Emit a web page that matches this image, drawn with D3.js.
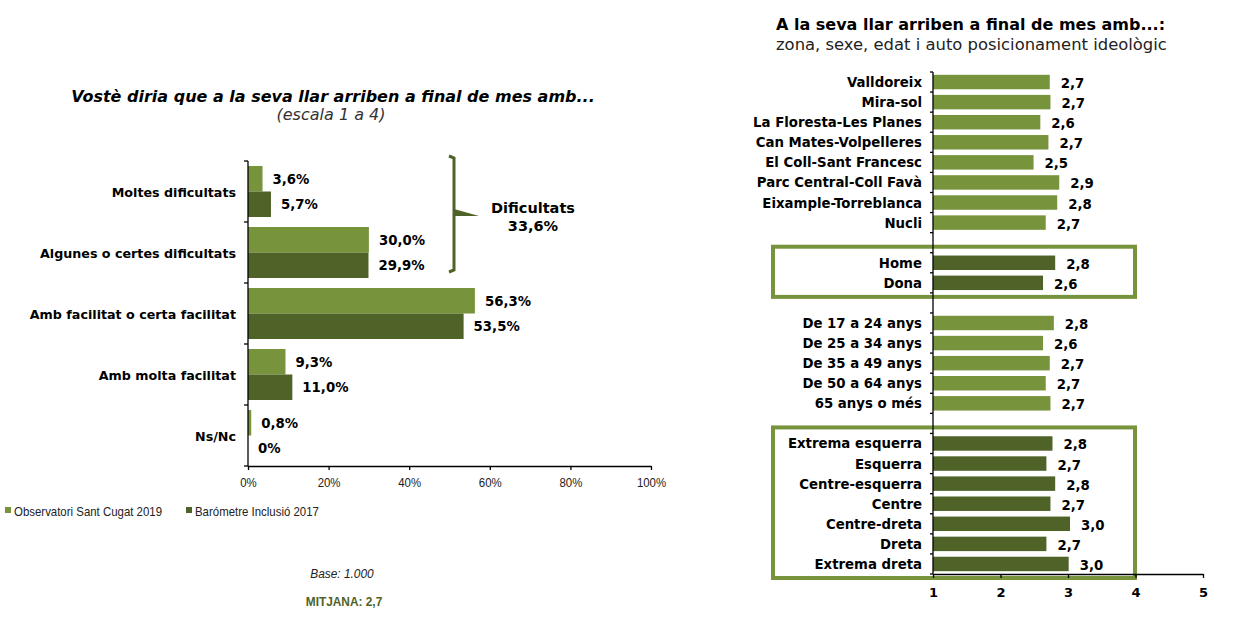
<!DOCTYPE html>
<html>
<head>
<meta charset="utf-8">
<script src="https://cdn.jsdelivr.net/npm/d3@7"></script>
<style>
  body { margin: 0; background: #fff; }
  svg { display: block; }
  .bold { font-family: "DejaVu Sans", Verdana, sans-serif; font-weight: bold; }
  .plain { font-family: "Liberation Sans", Arial, sans-serif; }
</style>
</head>
<body>
<svg id="chart" width="1250" height="629"></svg>
<script>
// left chart data
var answers = ["Moltes dificultats", "Algunes o certes dificultats", "Amb facilitat o certa facilitat", "Amb molta facilitat", "Ns/Nc"];
var series = ["Observatori Sant Cugat 2019", "Barómetre Inclusió 2017"];
var santCugat2019 = [3.6, 30.0, 56.3, 9.3, 0.8];
var barometre2017 = [5.7, 29.9, 53.5, 11.0, 0];
var pctTicks = [0, 20, 40, 60, 80, 100];

// right chart data
var zones = ["Valldoreix", "Mira-sol", "La Floresta-Les Planes", "Can Mates-Volpelleres", "El Coll-Sant Francesc", "Parc Central-Coll Favà", "Eixample-Torreblanca", "Nucli"];
var zoneValues = [2.73, 2.74, 2.59, 2.71, 2.49, 2.87, 2.84, 2.67];
var sexes = ["Home", "Dona"];
var sexValues = [2.81, 2.63];
var ages = ["De 17 a 24 anys", "De 25 a 34 anys", "De 35 a 49 anys", "De 50 a 64 anys", "65 anys o més"];
var ageValues = [2.79, 2.63, 2.73, 2.67, 2.74];
var ideologies = ["Extrema esquerra", "Esquerra", "Centre-esquerra", "Centre", "Centre-dreta", "Dreta", "Extrema dreta"];
var ideologyValues = [2.77, 2.68, 2.81, 2.74, 3.03, 2.68, 3.01];
var scaleTicks = [1, 2, 3, 4, 5];

var light = "#77933c", dark = "#4f6228";
var svg = d3.select("#chart");
var comma = function(s){ return s.replace(".", ","); };
var narrow = "scale(0.88,1)"; // Tahoma-like narrow look

// ---------- left chart ----------
var xL = d3.scaleLinear().domain([0, 100]).range([248, 651]);
var yL = d3.scaleBand().domain(answers).range([161, 466]);
var ySub = d3.scaleBand().domain(series).range([5, yL.bandwidth() - 5]);

var left = svg.append("g");

left.append("text").attr("class", "bold").attr("x", 333).attr("y", 102)
  .attr("text-anchor", "middle").style("font-size", "16px").style("font-style", "italic")
  .text("Vostè diria que a la seva llar arriben a final de mes amb...");
left.append("text").attr("x", 331).attr("y", 120)
  .attr("text-anchor", "middle").style("font-family", "DejaVu Sans").style("font-size", "16px").style("font-style", "italic")
  .attr("fill", "#333").text("(escala 1 a 4)");

var rowsL = answers.map(function(a, i){
  return {cat: a, vals: [{s: series[0], v: santCugat2019[i]}, {s: series[1], v: barometre2017[i]}]};
});

var grp = left.selectAll(".grp").data(rowsL).enter().append("g")
  .attr("transform", function(d){ return "translate(0," + yL(d.cat) + ")"; });

grp.selectAll("rect").data(function(d){ return d.vals; }).enter().append("rect")
  .attr("x", xL(0))
  .attr("y", function(d){ return ySub(d.s); })
  .attr("width", function(d){ return xL(d.v) - xL(0); })
  .attr("height", ySub.bandwidth())
  .attr("fill", function(d){ return d.s === series[0] ? light : dark; });

grp.selectAll(".val").data(function(d){ return d.vals; }).enter().append("text")
  .attr("class", "bold")
  .attr("x", function(d){ return xL(d.v) + 10; })
  .attr("y", function(d){ return ySub(d.s) + ySub.bandwidth() / 2 + 5; })
  .style("font-size", "13.3px")
  .text(function(d){ return d.v === 0 ? "0%" : comma(d3.format(".1f")(d.v)) + "%"; });

grp.append("text").attr("class", "bold")
  .attr("x", 236).attr("y", yL.bandwidth() / 2 + 5)
  .attr("text-anchor", "end").style("font-size", "12.7px")
  .text(function(d){ return d.cat; });

// y axis line + ticks between categories
left.append("line").attr("x1", xL(0)).attr("x2", xL(0))
  .attr("y1", yL.range()[0]).attr("y2", yL.range()[1]).attr("stroke", "#000").attr("stroke-width", 1.3);
var bounds = answers.map(function(a){ return yL(a); }).concat([yL.range()[1]]);
left.selectAll(".ytick").data(bounds).enter().append("line")
  .attr("x1", xL(0) - 4).attr("x2", xL(0)).attr("y1", function(d){ return d; }).attr("y2", function(d){ return d; })
  .attr("stroke", "#000").attr("stroke-width", 1.3);

// x axis
var xAxisL = d3.axisBottom(xL).tickValues(pctTicks).tickSize(4).tickSizeOuter(0)
  .tickFormat(function(d){ return d + "%"; });
var gx = left.append("g").attr("transform", "translate(0," + yL.range()[1] + ")").call(xAxisL);
gx.select(".domain").attr("stroke-width", 1.3);
gx.selectAll("line").attr("stroke-width", 1.3);
gx.selectAll("text").attr("class", "plain").style("font-size", "13px").attr("fill", "#222")
  .attr("dy", "1.05em").attr("transform", narrow);

// bracket "Dificultats"
var bTop = yL(answers[0]) - 5, bBot = yL(answers[1]) + yL.bandwidth() - 11, bx = 454;
var bMid = (bTop + bBot) / 2 - 2;
left.append("path")
  .attr("d", "M" + (bx - 5) + "," + bTop + " L" + bx + "," + (bTop + 2) + " L" + bx + "," + (bBot - 2) + " L" + (bx - 5) + "," + bBot)
  .attr("fill", "none").attr("stroke", dark).attr("stroke-width", 3);
left.append("path")
  .attr("d", "M" + bx + "," + (bMid - 3) + " L" + (bx + 25) + "," + (bMid + 4) + " L" + bx + "," + (bMid + 4) + "Z")
  .attr("fill", dark);
left.append("text").attr("class", "bold").attr("x", 533).attr("y", 213)
  .attr("text-anchor", "middle").style("font-size", "14.5px").text("Dificultats");
left.append("text").attr("class", "bold").attr("x", 533).attr("y", 231)
  .attr("text-anchor", "middle").style("font-size", "14.5px").text(comma(d3.format(".1f")(santCugat2019[0] + santCugat2019[1])) + "%");

// legend
var leg = left.selectAll(".leg").data(series).enter().append("g")
  .attr("transform", function(d, i){ return "translate(" + (5 + i * 181) + ",511)"; });
leg.append("rect").attr("x", 0).attr("y", -4).attr("width", 6).attr("height", 6)
  .attr("fill", function(d, i){ return i === 0 ? light : dark; });
leg.append("g").attr("transform", "translate(9,5) " + narrow)
  .append("text").attr("class", "plain").style("font-size", "13px")
  .attr("fill", "#222").text(function(d){ return d; });

left.append("g").attr("transform", "translate(342,578) " + narrow)
  .append("text").attr("class", "plain").attr("text-anchor", "middle")
  .style("font-size", "13.5px").style("font-style", "italic").attr("fill", "#222").text("Base: 1.000");
left.append("g").attr("transform", "translate(344,606) " + narrow)
  .append("text").attr("class", "plain").attr("text-anchor", "middle")
  .style("font-size", "13.5px").style("font-weight", "bold").attr("fill", dark).text("MITJANA: 2,7");

// ---------- right chart ----------
var groups = [
  {labels: zones, values: zoneValues, color: light},
  {labels: sexes, values: sexValues, color: dark},
  {labels: ages, values: ageValues, color: light},
  {labels: ideologies, values: ideologyValues, color: dark}
];
var rowsR = [];
groups.forEach(function(g, gi){
  if (gi > 0) rowsR.push({key: "gap" + gi, gap: true});
  g.labels.forEach(function(l, i){ rowsR.push({key: l, label: l, v: g.values[i], color: g.color, group: gi}); });
});

var xR = d3.scaleLinear().domain([1, 5]).range([933, 1203]);
var yR = d3.scaleBand().domain(rowsR.map(function(d){ return d.key; })).range([72, 574]).paddingInner(0.28).paddingOuter(0.14);
var right = svg.append("g");

right.append("text").attr("class", "bold").attr("x", 776).attr("y", 30)
  .style("font-size", "16px").text("A la seva llar arriben a final de mes amb...:");
right.append("text").attr("x", 776).attr("y", 50)
  .style("font-family", "DejaVu Sans").style("font-size", "16.4px").attr("fill", "#222")
  .text("zona, sexe, edat i auto posicionament ideològic");

// boxes around sex and ideology groups
[1, 3].forEach(function(gi){
  var labs = groups[gi].labels;
  var top = yR(labs[0]) - yR.step() * yR.paddingInner() / 2 - 6;
  var bot = yR(labs[labs.length - 1]) + yR.bandwidth() + yR.step() * yR.paddingInner() / 2 + 4;
  right.append("rect").attr("x", 773).attr("y", top).attr("width", 362).attr("height", bot - top)
    .attr("fill", "none").attr("stroke", light).attr("stroke-width", 4);
});

var data = rowsR.filter(function(d){ return !d.gap; });
right.selectAll(".bar").data(data).enter().append("rect")
  .attr("x", xR(1)).attr("y", function(d){ return yR(d.key); })
  .attr("width", function(d){ return xR(d.v) - xR(1); })
  .attr("height", yR.bandwidth())
  .attr("fill", function(d){ return d.color; });

right.selectAll(".val").data(data).enter().append("text").attr("class", "bold")
  .attr("x", function(d){ return xR(d.v) + 11; })
  .attr("y", function(d){ return yR(d.key) + yR.bandwidth() / 2 + 6; })
  .style("font-size", "13.3px")
  .text(function(d){ return comma(d3.format(".1f")(d.v)); });

right.selectAll(".lab").data(data).enter().append("text").attr("class", "bold")
  .attr("x", 922).attr("y", function(d){ return yR(d.key) + yR.bandwidth() / 2 + 5; })
  .attr("text-anchor", "end").style("font-size", "13.3px")
  .text(function(d){ return d.label; });

right.append("line").attr("x1", xR(1)).attr("x2", xR(1)).attr("y1", 72).attr("y2", 574)
  .attr("stroke", "#000").attr("stroke-width", 1.3);
var boundsR = rowsR.map(function(d){ return yR(d.key) - yR.step() * yR.paddingInner() / 2; }).concat([574]);
right.selectAll(".ytick").data(boundsR).enter().append("line")
  .attr("x1", xR(1) - 3).attr("x2", xR(1)).attr("y1", function(d){ return d; }).attr("y2", function(d){ return d; })
  .attr("stroke", "#000").attr("stroke-width", 1.3);

var gxR = right.append("g").attr("transform", "translate(0,574)")
  .call(d3.axisBottom(xR).tickValues(scaleTicks).tickSize(4).tickSizeOuter(0).tickFormat(d3.format("d")));
gxR.select(".domain").attr("stroke-width", 1.5);
gxR.selectAll("line").attr("stroke-width", 1.3);
gxR.selectAll("text").attr("class", "bold").style("font-size", "13px").attr("dy", "1.2em");
</script>
</body>
</html>
